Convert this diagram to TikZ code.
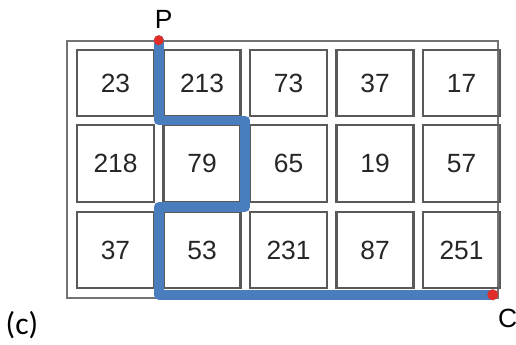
\documentclass[tikz,border=0pt]{standalone}
\usepackage{fontspec}
\setmainfont{Liberation Sans}
\newfontfamily\capfont{Carlito}
\usetikzlibrary{positioning, calc}
\definecolor{routeblue}{RGB}{74,125,190}
\definecolor{dotred}{RGB}{225,45,40}

\begin{document}
\begin{tikzpicture}[
    x=0.02cm, y=-0.02cm,
    every node/.style={font=\fontsize{15}{17}\selectfont},
    cell/.style={draw=black!65, line width=1.4pt, minimum width=1.54cm, inner sep=0pt, text=black!85},
    frame/.style={draw=black!55, line width=0.9pt, minimum width=8.62cm, minimum height=5.14cm, inner sep=0pt},
    route/.style={line width=5.6pt, routeblue, line cap=round, line join=round},
    enddot/.style={fill=dotred},
    lbl/.style={font=\fontsize{15}{17}\selectfont, inner sep=0pt},
]
    \useasboundingbox (0,0) rectangle (516,344);

    % outer frame round the grid
    \node[frame] (frame) at (282.5,169.5) {};

    % the 3 x 5 cells, one row at a time
    \foreach \row/\y/\h/\vals in {1/83/1.32/{23,213,73,37,17},
                                  2/163.5/1.54/{218,79,65,19,57},
                                  3/250/1.52/{37,53,231,87,251}} {
        \foreach \v [count=\col] in \vals {
            \node[cell, minimum height=\h cm] (c\row\col) at ({115.5+86.5*(\col-1)}, \y) {\v};
        }
    }

    % corners of the route, in the gaps between cells
    \coordinate (g12) at ($(c11.south east)!0.5!(c22.north west)$);
    \coordinate (g23) at ($(c12.south east)!0.5!(c23.north west)$);
    \coordinate (g33) at ($(c22.south east)!0.5!(c33.north west)$);
    \coordinate (g32) at ($(c22.south west)!0.5!(c31.north east)$);
    \coordinate (P) at (g12 |- frame.north);
    \coordinate (C) at ($(frame.south east)+(-6,-4)$);

    \draw[route] (P) -- (g12) -- (g23) -- (g33) -- (g32) -- (g32 |- C) -- (C);
    \fill[enddot] (P) circle (5);
    \fill[enddot] (C) circle (5.5);

    \node[lbl, above=2.2mm of P, xshift=1mm] (lblP) {P};
    \node[lbl, below right=2.8mm and 1mm of C] (lblC) {C};
    \node[font=\capfont\fontsize{18}{21}\selectfont, inner sep=0pt] (lblfig) at (22,325) {(c)};
\end{tikzpicture}
\end{document}
